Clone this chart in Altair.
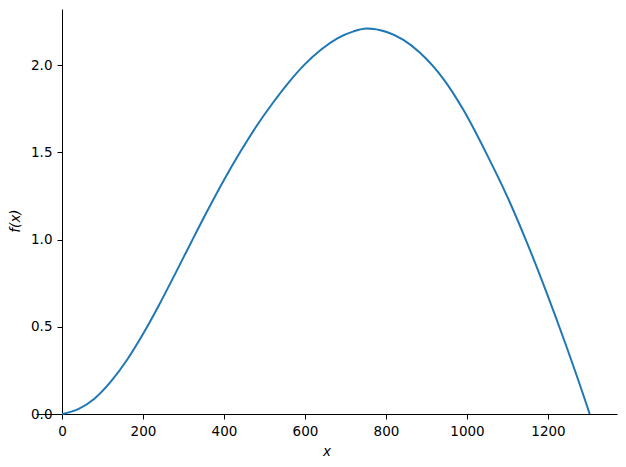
import altair as alt
import pandas as pd

# values
x_vals = [0, 40, 80, 120, 160, 200, 240, 280, 320, 360, 400, 440, 480, 520,
          560, 600, 640, 680, 720, 752, 802, 843, 884, 942, 991, 1049, 1098,
          1147, 1197, 1246, 1296, 1303]
f_vals = [0.0, 0.028, 0.088, 0.184, 0.308, 0.458, 0.626, 0.806, 0.989, 1.169,
          1.341, 1.501, 1.649, 1.781, 1.901, 2.005, 2.089, 2.153, 2.193, 2.209,
          2.189, 2.144, 2.070, 1.919, 1.743, 1.488, 1.253, 0.988, 0.693, 0.384,
          0.049, 0.0]
x_ticks = [0, 200, 400, 600, 800, 1000, 1200]
y_ticks = [0.0, 0.5, 1.0, 1.5, 2.0]

df = pd.DataFrame({"x": x_vals, "f": f_vals})

FONT = "DejaVu Sans"
FS = 13.5

chart = alt.Chart(df).mark_line(
    color="#1f77b4", strokeWidth=2, interpolate="monotone"
).encode(
    x=alt.X("x:Q",
            scale=alt.Scale(domain=[-64.2, 1370.4], nice=False, zero=False),
            axis=alt.Axis(values=x_ticks, format="d", title="x",
                          titleFontStyle="italic", titleFontWeight="normal",
                          titleFont=FONT, titleFontSize=FS, titleColor="black",
                          titleY=41, titleBaseline="alphabetic",
                          labelFont=FONT, labelFontSize=FS, labelColor="black",
                          labelPadding=5, tickSize=5, tickColor="black",
                          tickWidth=1, domainColor="black", domainWidth=1,
                          grid=False, labelFlush=False)),
    y=alt.Y("f:Q",
            scale=alt.Scale(domain=[0, 2.321], nice=False, zero=False),
            axis=alt.Axis(values=y_ticks, format=".1f", title="f(x)",
                          titleFontStyle="italic", titleFontWeight="normal",
                          titleFont=FONT, titleFontSize=FS, titleColor="black",
                          titleX=-47, titleY=211.5, titleBaseline="middle",
                          titleAlign="center", titleAngle=270,
                          offset=-26,
                          labelFont=FONT, labelFontSize=FS, labelColor="black",
                          labelPadding=5, tickSize=5, tickColor="black",
                          tickWidth=1, domainColor="black", domainWidth=1,
                          grid=False, labelFlush=False)),
).properties(
    width=581,
    height=405,
    autosize="none",
    padding={"left": 28, "top": 1, "right": 1, "bottom": 50},
).configure_view(stroke=None)

chart.save("out.html", embed_options={"renderer": "svg", "actions": False})
